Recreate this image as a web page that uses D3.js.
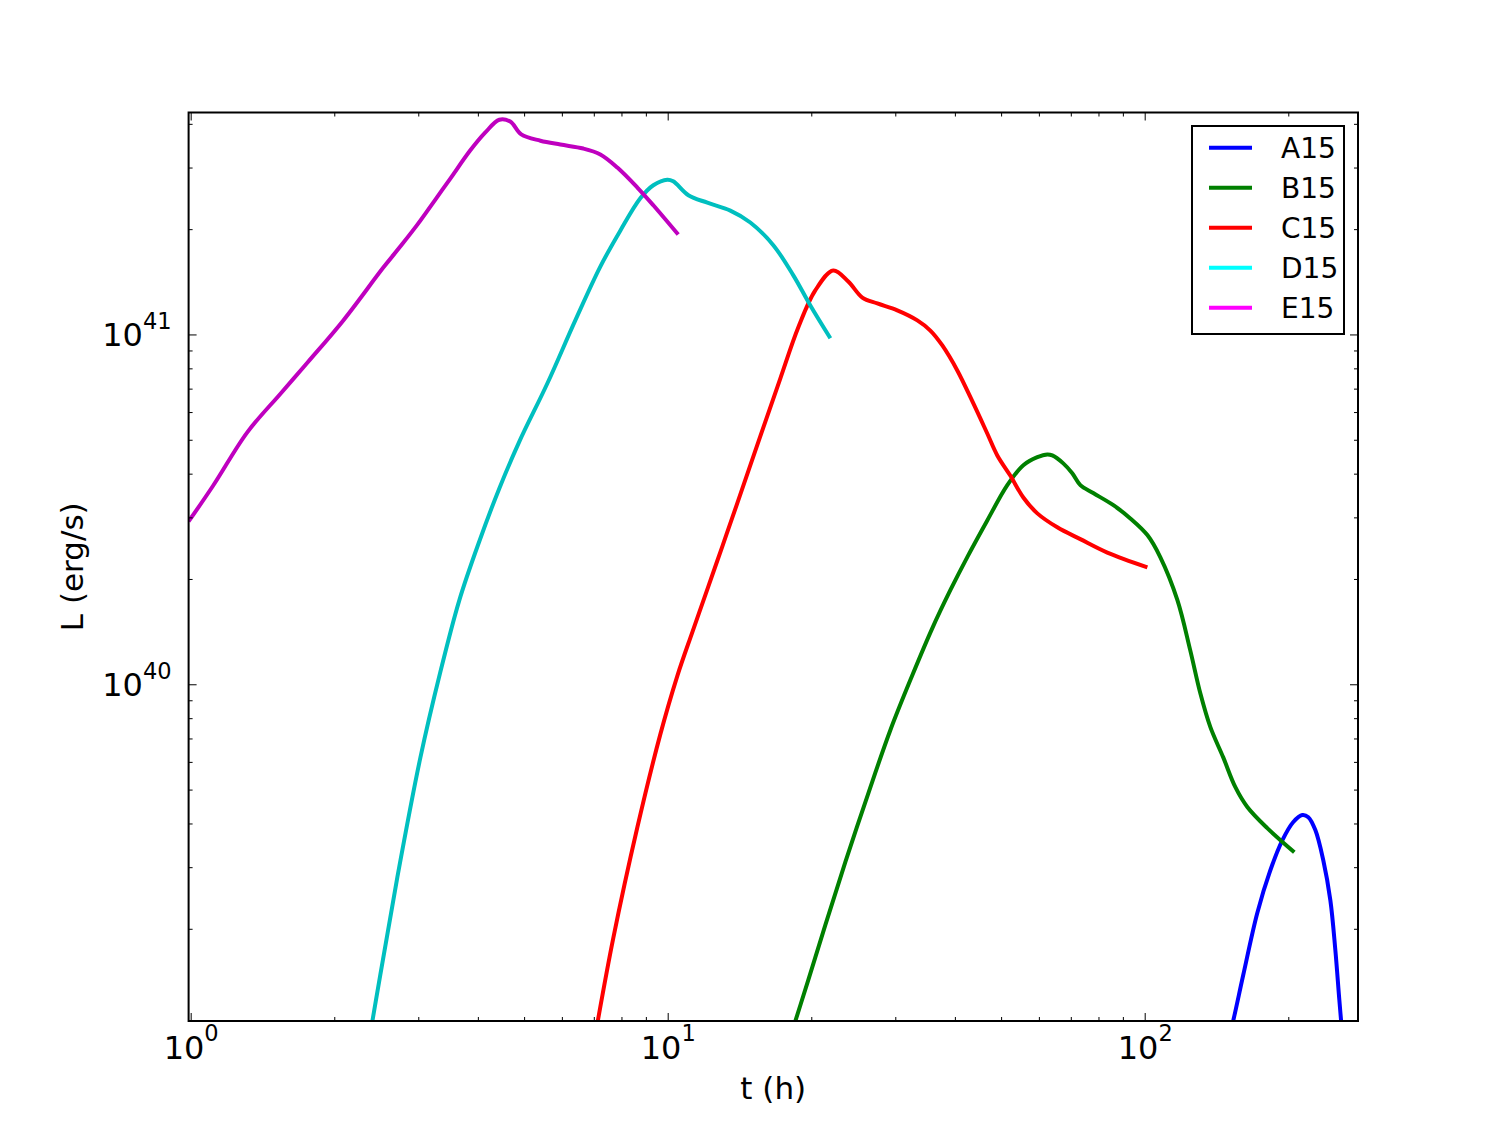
<!DOCTYPE html>
<html><head><meta charset="utf-8">
<script src="https://cdn.jsdelivr.net/npm/d3@7"></script>
<style>body{margin:0;background:#fff}svg{display:block}text{font-family:"DejaVu Sans",sans-serif}</style>
</head><body><svg id="c" width="1509" height="1136"></svg>
<script>
const seriesNames = ["A15","B15","C15","D15","E15"];
const lineColors = ["#0000ff","#008000","#ff0000","#00bfbf","#bf00bf"];
const legendColors = ["#0000ff","#008000","#ff0000","#00ffff","#ff00ff"];

const A15_t = [149.7,153.4,160.9,172.2,183.4,194.3,204.9,214.0,220.3,227.9,236.8,245.0,251.0,255.9,259.6];
const A15_L = [9.61e38,1.096e39,1.475e39,2.22e39,2.94e39,3.58e39,4.04e39,4.23e39,4.17e39,3.83e39,3.14e39,2.415e39,1.738e39,1.25e39,9.93e38];

const B15_t = [18.07,19.71,21.40,23.57,26.34,29.29,32.57,35.86,39.13,42.47,46.77,51.52,55.66,59.55,62.5,64.0,67.5,70.5,73.3,78.0,85.97,93.3,101.3,107.8,117.1,124.6,130.8,137.3,146.1,154.9,164.1,180.7,205.9];
const B15_L = [9.80e38,1.427e39,2.05e39,3.10e39,4.88e39,7.39e39,1.061e40,1.445e40,1.857e40,2.31e40,2.94e40,3.71e40,4.23e40,4.46e40,4.54e40,4.51e40,4.28e40,4.01e40,3.71e40,3.52e40,3.25e40,2.98e40,2.67e40,2.31e40,1.74e40,1.25e40,9.42e39,7.54e39,6.18e39,5.08e39,4.46e39,3.88e39,3.31e39];

const C15_t = [7.05,7.69,8.638,9.65,10.47,11.26,12.17,13.02,13.99,15.64,17.22,18.78,20.39,22.24,23.91,25.59,27.51,30.29,33.37,35.53,37.65,40.47,43.73,46.77,49.09,52.26,55.66,59.55,65.58,73.28,83.49,101.3];
const C15_L = [9.93e38,1.88e39,3.90e39,7.19e39,1.054e40,1.408e40,1.905e40,2.48e40,3.29e40,5.12e40,7.48e40,1.047e41,1.336e41,1.524e41,1.417e41,1.275e41,1.226e41,1.172e41,1.097e41,1.026e41,9.30e40,7.89e40,6.35e40,5.21e40,4.51e40,3.95e40,3.42e40,3.08e40,2.81e40,2.60e40,2.38e40,2.16e40];

const D15_t = [2.357,2.497,2.712,3.029,3.336,3.657,4.027,4.436,4.886,5.593,6.402,7.224,7.955,8.762,9.33,9.98,10.27,11.05,12.11,13.53,14.90,16.65,18.34,19.91,21.93];
const D15_L = [9.3e38,1.475e39,2.81e39,6.15e39,1.082e40,1.738e40,2.56e40,3.63e40,4.94e40,7.24e40,1.097e41,1.563e41,1.98e41,2.45e41,2.67e41,2.77e41,2.74e41,2.50e41,2.38e41,2.26e41,2.09e41,1.80e41,1.475e41,1.21e41,9.75e40];

const E15_t = [0.99,1.115,1.314,1.541,1.756,2.089,2.534,2.750,2.987,3.258,3.502,3.857,4.147,4.436,4.677,4.932,5.41,5.956,6.653,7.224,7.842,8.638,9.33,10.52];
const E15_L = [2.92e40,3.70e40,5.25e40,6.76e40,8.30e40,1.097e41,1.553e41,1.783e41,2.06e41,2.43e41,2.79e41,3.36e41,3.78e41,4.11e41,4.06e41,3.73e41,3.58e41,3.49e41,3.40e41,3.27e41,3.00e41,2.63e41,2.34e41,1.93e41];

const xMajorTicks = [1,10,100];
const xMinorTicks = [2,3,4,5,6,7,8,9,20,30,40,50,60,70,80,90,200];
const yMajorTicks = [1e40,1e41];
const yMinorTicks = [2e39,3e39,4e39,5e39,6e39,7e39,8e39,9e39,2e40,3e40,4e40,5e40,6e40,7e40,8e40,9e40,2e41,3e41,4e41];
const xDomain = [0.99,280];
const yDomain = [1.09e39,4.31e41];
const xLabel = "t (h)";
const yLabel = "L (erg/s)";

const svg = d3.select("#c");
const L=188.6, R=1358, T=112.5, B=1021;
const x = d3.scaleLog().domain(xDomain).range([L,R]);
const y = d3.scaleLog().domain(yDomain).range([B,T]);

svg.append("rect").attr("width",1509).attr("height",1136).attr("fill","#fff");
svg.append("defs").append("clipPath").attr("id","clip").append("rect")
  .attr("x",L).attr("y",T).attr("width",R-L).attr("height",B-T);

const series = [[A15_t,A15_L],[B15_t,B15_L],[C15_t,C15_L],[D15_t,D15_L],[E15_t,E15_L]];
const line = d3.line().x(d=>x(d[0])).y(d=>y(d[1])).curve(d3.curveCatmullRom.alpha(0.5));
const gl = svg.append("g").attr("clip-path","url(#clip)");
series.forEach((s,i)=>{
  gl.append("path").attr("d", line(d3.zip(s[0],s[1])))
    .attr("fill","none").attr("stroke",lineColors[i]).attr("stroke-width",4)
    .attr("stroke-linejoin","round").attr("stroke-linecap","butt");
});

function clean(g){ g.select(".domain").remove(); g.selectAll(".tick line").attr("stroke","#000").attr("stroke-width",1); }
const fontFam = '"DejaVu Sans", sans-serif';

// bottom
svg.append("g").attr("transform",`translate(0,${B})`)
  .call(d3.axisBottom(x).tickValues(xMajorTicks).tickSize(-8).tickPadding(15).tickFormat(()=>"10"))
  .call(clean)
  .call(g=>g.selectAll(".tick text").attr("font-size",32).attr("font-family",fontFam).attr("fill","#000")
    .each(function(d){ d3.select(this).append("tspan").attr("dy",-17.5).attr("font-size",22.5).text(Math.round(Math.log10(d))); }));
svg.append("g").attr("transform",`translate(0,${B})`)
  .call(d3.axisBottom(x).tickValues(xMinorTicks).tickSize(-4).tickFormat("")).call(clean);
// top
svg.append("g").attr("transform",`translate(0,${T})`)
  .call(d3.axisTop(x).tickValues(xMajorTicks).tickSize(-8).tickFormat("")).call(clean);
svg.append("g").attr("transform",`translate(0,${T})`)
  .call(d3.axisTop(x).tickValues(xMinorTicks).tickSize(-4).tickFormat("")).call(clean);
// left
svg.append("g").attr("transform",`translate(${L},0)`)
  .call(d3.axisLeft(y).tickValues(yMajorTicks).tickSize(-8).tickPadding(17).tickFormat(()=>"10"))
  .call(clean)
  .call(g=>g.selectAll(".tick text").attr("font-size",32).attr("font-family",fontFam).attr("fill","#000").attr("dy","0.36em")
    .each(function(d){ d3.select(this).append("tspan").attr("dy",-17.5).attr("font-size",22.5).text(Math.round(Math.log10(d))); }));
svg.append("g").attr("transform",`translate(${L},0)`)
  .call(d3.axisLeft(y).tickValues(yMinorTicks).tickSize(-4).tickFormat("")).call(clean);
// right
svg.append("g").attr("transform",`translate(${R},0)`)
  .call(d3.axisRight(y).tickValues(yMajorTicks).tickSize(-8).tickFormat("")).call(clean);
svg.append("g").attr("transform",`translate(${R},0)`)
  .call(d3.axisRight(y).tickValues(yMinorTicks).tickSize(-4).tickFormat("")).call(clean);

// frame
svg.append("rect").attr("x",L).attr("y",T).attr("width",R-L).attr("height",B-T)
  .attr("fill","none").attr("stroke","#000").attr("stroke-width",2);

// axis labels
svg.append("text").attr("x",(L+R)/2).attr("y",1099).attr("text-anchor","middle")
  .attr("font-size",31).attr("fill","#000").text(xLabel);
svg.append("text").attr("transform",`translate(83,${(T+B)/2}) rotate(-90)`).attr("text-anchor","middle")
  .attr("font-size",31).attr("fill","#000").text(yLabel);

// legend
const lg = svg.append("g");
lg.append("rect").attr("x",1192).attr("y",126).attr("width",152).attr("height",208)
  .attr("fill","#fff").attr("stroke","#000").attr("stroke-width",2);
seriesNames.forEach((n,i)=>{
  const yy = 147.7 + i*40;
  lg.append("line").attr("x1",1209).attr("x2",1252).attr("y1",yy).attr("y2",yy)
    .attr("stroke",legendColors[i]).attr("stroke-width",4);
  lg.append("text").attr("x",1281).attr("y",yy+10.6).attr("font-size",28).attr("fill","#000").text(n);
});
</script></body></html>
